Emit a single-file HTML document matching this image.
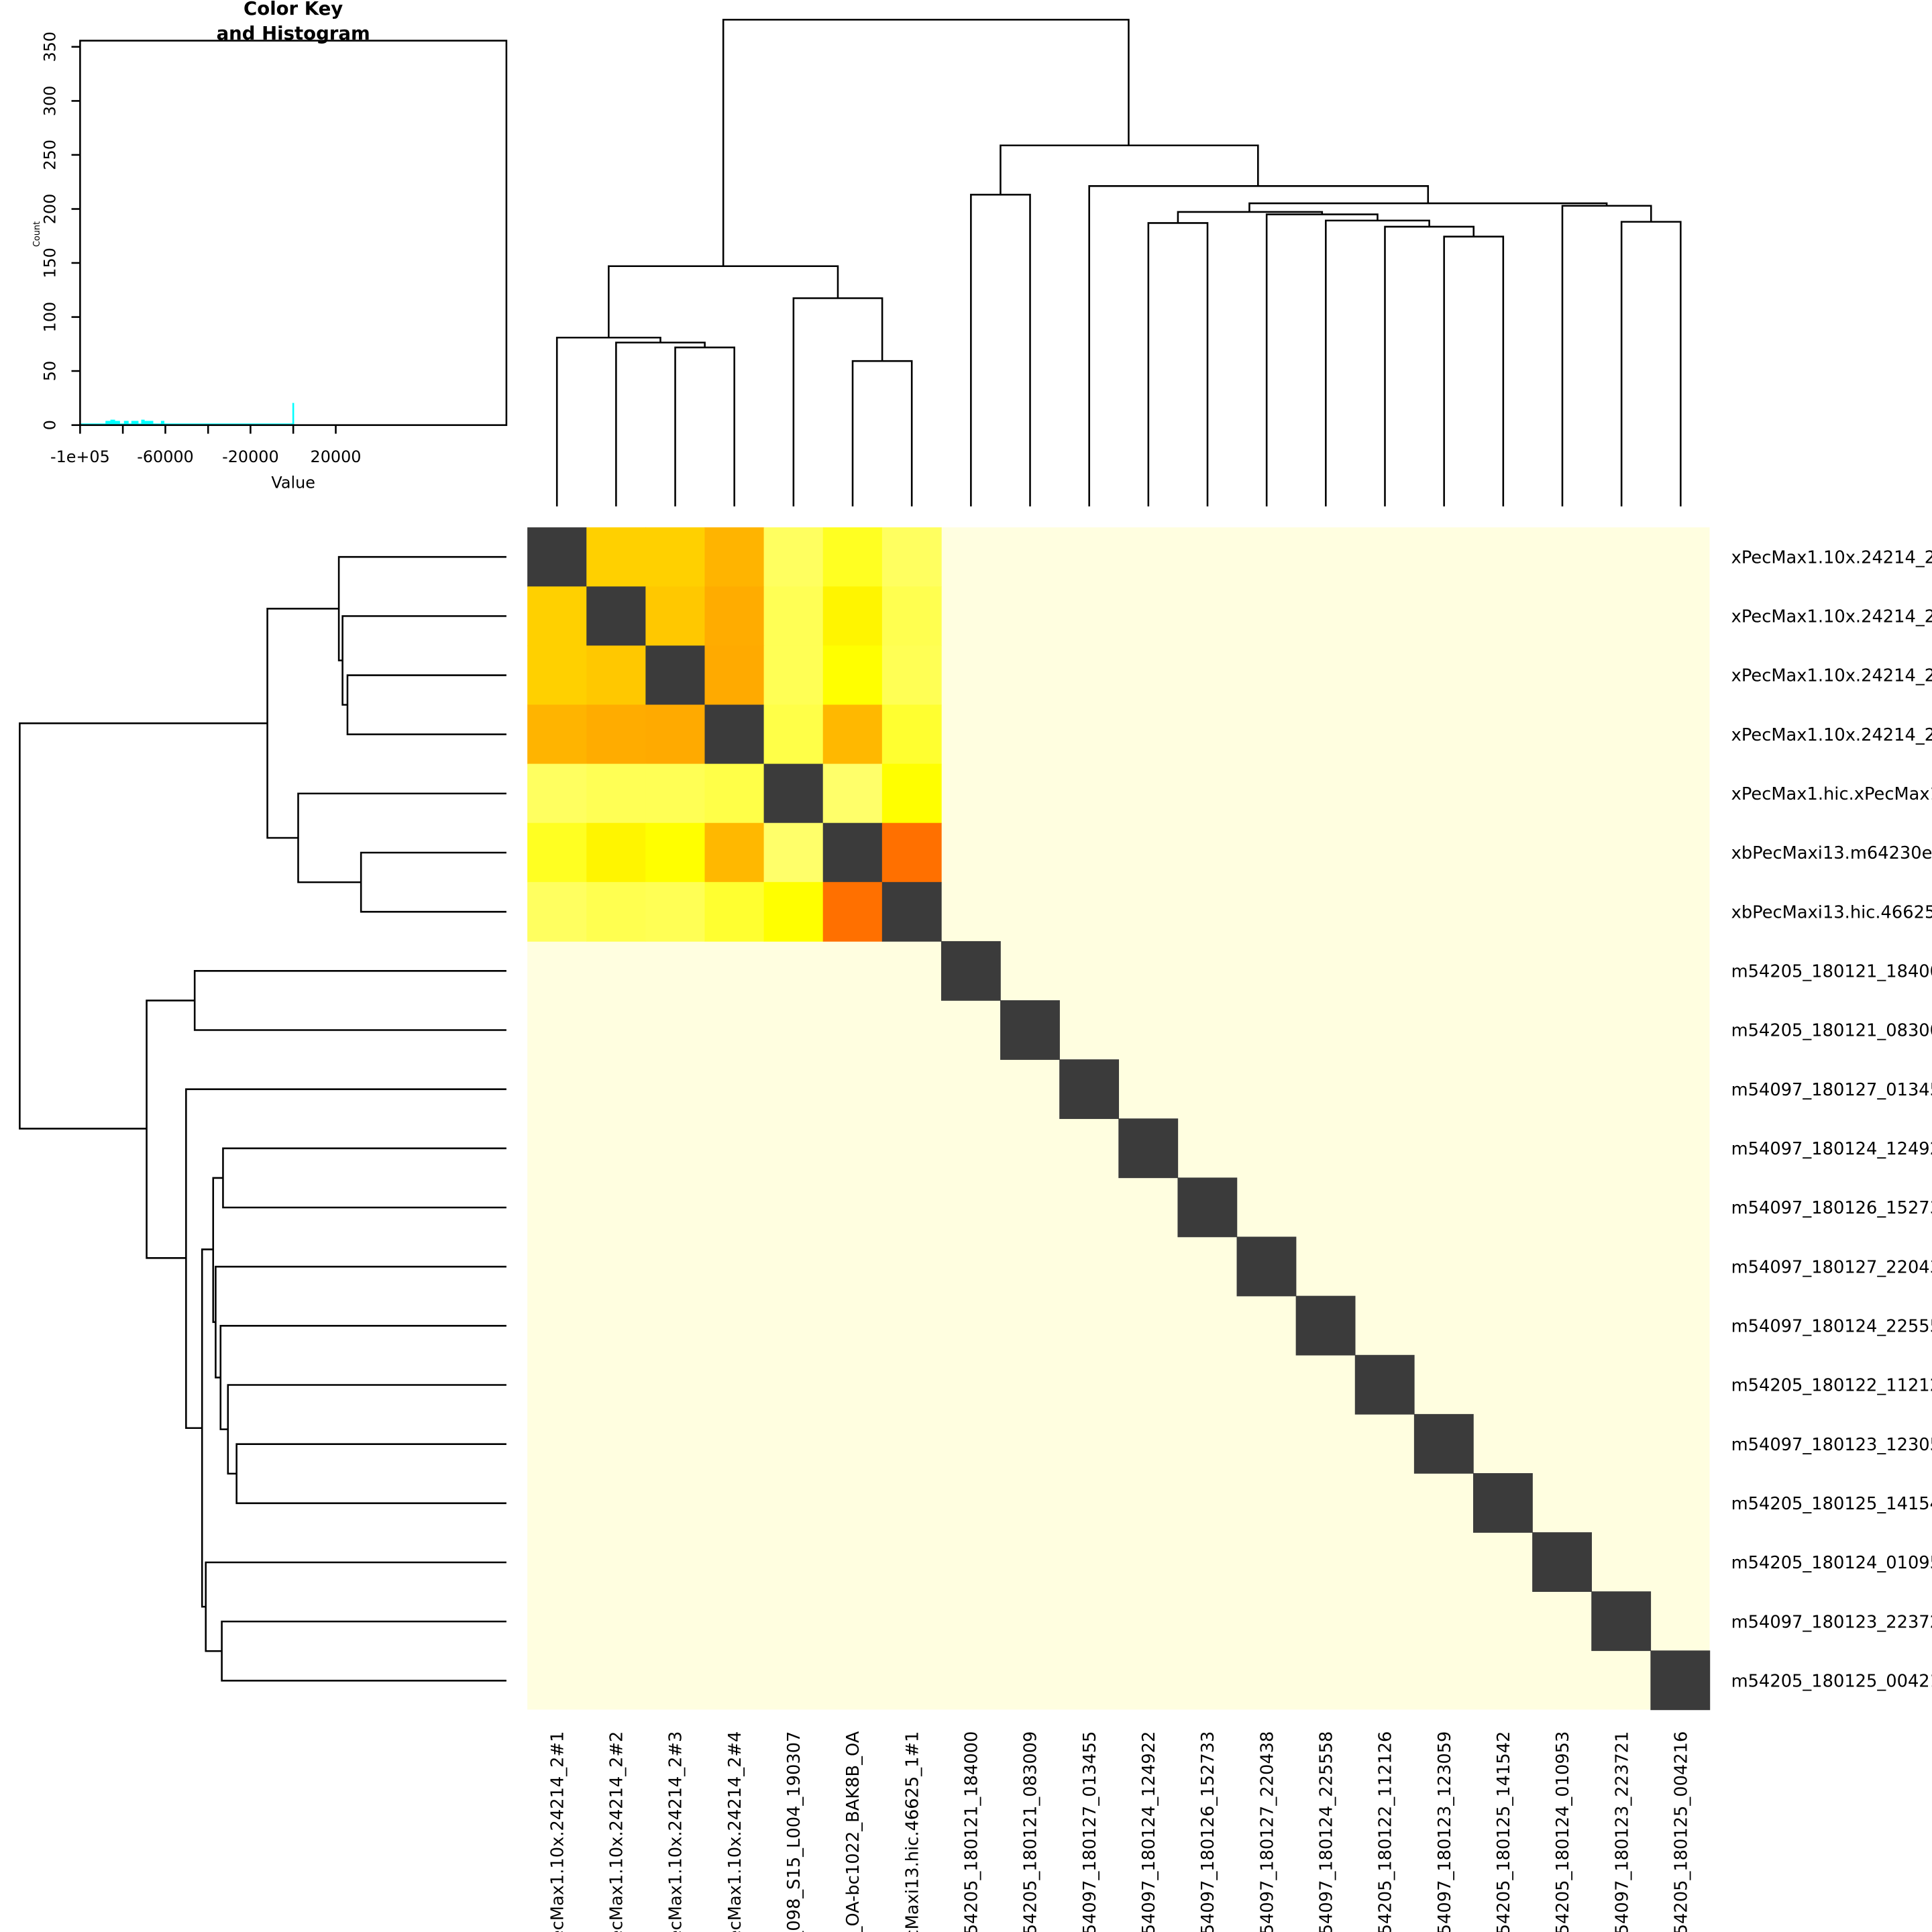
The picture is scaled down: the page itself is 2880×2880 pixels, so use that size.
<!DOCTYPE html>
<html><head><meta charset="utf-8"><style>
html,body{margin:0;padding:0;background:#fff;overflow:hidden;width:2880px;height:2880px}
svg{display:block}
text{font-family:"DejaVu Sans","Liberation Sans",sans-serif;fill:#000}
</style></head><body>
<svg width="2880" height="2880" viewBox="0 0 1568 1568" xmlns="http://www.w3.org/2000/svg" overflow="hidden">
<rect width="1568" height="1568" fill="#fff"/>
<g id="hm">
<rect x="428" y="428" width="959.5" height="959.5" fill="#fffee0"/>
</g>
<script>
(function(){
var D='#3b3b3b';
var m=[
[D,'#ffd000','#ffd000','#ffb400','#ffff60','#ffff22','#ffff60'],
['#ffd000',D,'#ffc800','#ffac00','#ffff55','#fff500','#ffff50'],
['#ffd000','#ffc800',D,'#ffaa00','#ffff55','#ffff00','#ffff55'],
['#ffb400','#ffac00','#ffaa00',D,'#ffff48','#ffb800','#ffff30'],
['#ffff60','#ffff55','#ffff55','#ffff48',D,'#ffff6a','#ffff00'],
['#ffff22','#fff500','#ffff00','#ffb800','#ffff6a',D,'#ff7000'],
['#ffff60','#ffff50','#ffff55','#ffff30','#ffff00','#ff7000',D]];
var g=document.getElementById('hm'),ns='http://www.w3.org/2000/svg',c=47.975;
function r(i,j,f){var e=document.createElementNS(ns,'rect');e.setAttribute('x',428+j*c);e.setAttribute('y',428+i*c);e.setAttribute('width',c+0.4);e.setAttribute('height',c+0.4);e.setAttribute('fill',f);g.appendChild(e);}
for(var i=0;i<7;i++)for(var j=0;j<7;j++)r(i,j,m[i][j]);
for(var k=7;k<20;k++)r(k,k,D);
})();
</script>
<g fill="none" stroke="#000" stroke-width="1.4">
<path d="M548 411V282H596V411"/>
<path d="M500 411V278H572V282"/>
<path d="M452 411V274H536V278"/>
<path d="M692 411V293H740V411"/>
<path d="M644 411V242H716V293"/>
<path d="M494 274V216H680V242"/>
<path d="M788 411V158H836V411"/>
<path d="M1316 411V180H1364V411"/>
<path d="M1268 411V167H1340V180"/>
<path d="M1172 411V192H1220V411"/>
<path d="M1124 411V184H1196V192"/>
<path d="M1076 411V179H1160V184"/>
<path d="M1028 411V174H1118V179"/>
<path d="M932 411V181H980V411"/>
<path d="M956 181V172H1073V174"/>
<path d="M1014 172V165H1304V167"/>
<path d="M884 411V151H1159V165"/>
<path d="M812 158V118H1021V151"/>
<path d="M587 216V16H916V118"/>
</g>
<g fill="none" stroke="#000" stroke-width="1.4" transform="matrix(0,1,1,0,0,0)">
<path d="M548 411V282H596V411"/>
<path d="M500 411V278H572V282"/>
<path d="M452 411V275H536V278"/>
<path d="M692 411V293H740V411"/>
<path d="M644 411V242H716V293"/>
<path d="M494 275V217H680V242"/>
<path d="M788 411V158H836V411"/>
<path d="M1316 411V180H1364V411"/>
<path d="M1268 411V167H1340V180"/>
<path d="M1172 411V192H1220V411"/>
<path d="M1124 411V185H1196V192"/>
<path d="M1076 411V179H1160V185"/>
<path d="M1028 411V175H1118V179"/>
<path d="M932 411V181H980V411"/>
<path d="M956 181V173H1073V175"/>
<path d="M1014 173V164H1304V167"/>
<path d="M884 411V151H1159V164"/>
<path d="M812 158V119H1021V151"/>
<path d="M587 217V16H916V119"/>
</g>
<g font-size="14">
<text x="1405" y="457">xPecMax1.10x.24214_2#1</text>
<text x="1405" y="505">xPecMax1.10x.24214_2#2</text>
<text x="1405" y="553">xPecMax1.10x.24214_2#3</text>
<text x="1405" y="601">xPecMax1.10x.24214_2#4</text>
<text x="1405" y="649">xPecMax1.hic.xPecMax1_098_S15_L004_190307</text>
<text x="1405" y="697">xbPecMaxi13.m64230e_OA-bc1022_BAK8B_OA</text>
<text x="1405" y="745">xbPecMaxi13.hic.46625_1#1</text>
<text x="1405" y="793">m54205_180121_184000</text>
<text x="1405" y="841">m54205_180121_083009</text>
<text x="1405" y="889">m54097_180127_013455</text>
<text x="1405" y="937">m54097_180124_124922</text>
<text x="1405" y="985">m54097_180126_152733</text>
<text x="1405" y="1033">m54097_180127_220438</text>
<text x="1405" y="1081">m54097_180124_225558</text>
<text x="1405" y="1129">m54205_180122_112126</text>
<text x="1405" y="1177">m54097_180123_123059</text>
<text x="1405" y="1225">m54205_180125_141542</text>
<text x="1405" y="1273">m54205_180124_010953</text>
<text x="1405" y="1321">m54097_180123_223721</text>
<text x="1405" y="1369">m54205_180125_004216</text>
</g>
<g font-size="14" text-anchor="end">
<text transform="translate(457,1405) rotate(-90)">xPecMax1.10x.24214_2#1</text>
<text transform="translate(505,1405) rotate(-90)">xPecMax1.10x.24214_2#2</text>
<text transform="translate(553,1405) rotate(-90)">xPecMax1.10x.24214_2#3</text>
<text transform="translate(601,1405) rotate(-90)">xPecMax1.10x.24214_2#4</text>
<text transform="translate(649,1405) rotate(-90)">xPecMax1.hic.xPecMax1_098_S15_L004_190307</text>
<text transform="translate(697,1405) rotate(-90)">xbPecMaxi13.m64230e_OA-bc1022_BAK8B_OA</text>
<text transform="translate(745,1405) rotate(-90)">xbPecMaxi13.hic.46625_1#1</text>
<text transform="translate(793,1405) rotate(-90)">m54205_180121_184000</text>
<text transform="translate(841,1405) rotate(-90)">m54205_180121_083009</text>
<text transform="translate(889,1405) rotate(-90)">m54097_180127_013455</text>
<text transform="translate(937,1405) rotate(-90)">m54097_180124_124922</text>
<text transform="translate(985,1405) rotate(-90)">m54097_180126_152733</text>
<text transform="translate(1033,1405) rotate(-90)">m54097_180127_220438</text>
<text transform="translate(1081,1405) rotate(-90)">m54097_180124_225558</text>
<text transform="translate(1129,1405) rotate(-90)">m54205_180122_112126</text>
<text transform="translate(1177,1405) rotate(-90)">m54097_180123_123059</text>
<text transform="translate(1225,1405) rotate(-90)">m54205_180125_141542</text>
<text transform="translate(1273,1405) rotate(-90)">m54205_180124_010953</text>
<text transform="translate(1321,1405) rotate(-90)">m54097_180123_223721</text>
<text transform="translate(1369,1405) rotate(-90)">m54205_180125_004216</text>
</g>
<g>
<line x1="65" y1="344.3" x2="238" y2="344.3" stroke="#00ffff" stroke-width="1.2"/>
<path d="M86 344V342H90V341H93V342H97V344M101 344V342H104V344M107 344V342H112V344M115 344V341H117V342H124V344M131 344V342H133V344" fill="#00ffff" stroke="#00ffff" stroke-width="0.8"/>
<line x1="238" y1="345" x2="238" y2="327" stroke="#00ffff" stroke-width="1.4"/>
<rect x="65" y="33" width="346" height="312" fill="none" stroke="#000" stroke-width="1.4"/>
<g stroke="#000" stroke-width="1.4">
<line x1="58" y1="345" x2="65" y2="345"/>
<line x1="58" y1="301.1" x2="65" y2="301.1"/>
<line x1="58" y1="257.3" x2="65" y2="257.3"/>
<line x1="58" y1="213.4" x2="65" y2="213.4"/>
<line x1="58" y1="169.6" x2="65" y2="169.6"/>
<line x1="58" y1="125.7" x2="65" y2="125.7"/>
<line x1="58" y1="81.9" x2="65" y2="81.9"/>
<line x1="58" y1="38" x2="65" y2="38"/>
<line x1="65" y1="345" x2="65" y2="352"/>
<line x1="99.7" y1="345" x2="99.7" y2="352"/>
<line x1="134.2" y1="345" x2="134.2" y2="352"/>
<line x1="168.9" y1="345" x2="168.9" y2="352"/>
<line x1="203.3" y1="345" x2="203.3" y2="352"/>
<line x1="238" y1="345" x2="238" y2="352"/>
<line x1="272.5" y1="345" x2="272.5" y2="352"/>
</g>
<g font-size="13" text-anchor="middle">
<text transform="translate(45,345) rotate(-90)">0</text>
<text transform="translate(45,301.1) rotate(-90)">50</text>
<text transform="translate(45,257.3) rotate(-90)">100</text>
<text transform="translate(45,213.4) rotate(-90)">150</text>
<text transform="translate(45,169.6) rotate(-90)">200</text>
<text transform="translate(45,125.7) rotate(-90)">250</text>
<text transform="translate(45,81.9) rotate(-90)">300</text>
<text transform="translate(45,38) rotate(-90)">350</text>
<text x="65" y="375">-1e+05</text>
<text x="134.2" y="375">-60000</text>
<text x="203.3" y="375">-20000</text>
<text x="272.5" y="375">20000</text>
<text x="238" y="396">Value</text>
<text transform="translate(32,190) rotate(-90)" font-size="7">Count</text>
<text x="238" y="12" font-size="15" font-weight="bold">Color Key</text>
<text x="238" y="32" font-size="15" font-weight="bold">and Histogram</text>
</g>
</g>
</svg>
</body></html>
